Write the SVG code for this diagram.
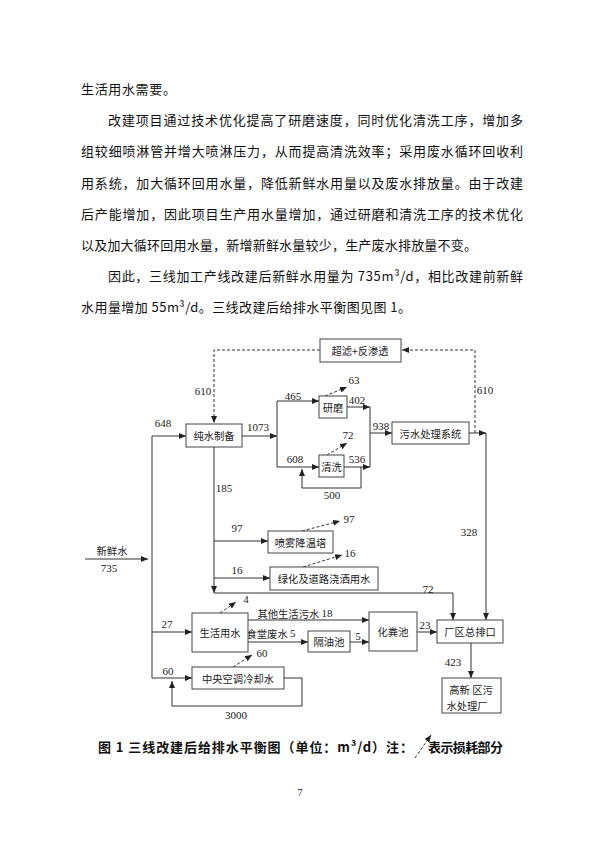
<svg xmlns="http://www.w3.org/2000/svg" width="600" height="849" viewBox="0 0 600 849">
<defs>
<marker id="ah" markerUnits="userSpaceOnUse" markerWidth="8" markerHeight="7" refX="7" refY="3" orient="auto">
<path d="M0,0 L7,3 L0,6 z" fill="#222"/>
</marker>
<style>
.t{font-family:"Noto Sans CJK SC",sans-serif;font-size:13px;fill:#111;letter-spacing:0.65px}
.tj{font-family:"Noto Sans CJK SC",sans-serif;font-size:13px;fill:#111}
.box{fill:#fff;stroke:#444;stroke-width:1}
.bt{font-family:"Noto Sans CJK SC",sans-serif;font-size:10.3px;fill:#222;text-anchor:middle;dominant-baseline:central}
.n{font-family:"Liberation Serif",serif;font-size:11px;fill:#222;text-anchor:middle;dominant-baseline:central}
.c{font-family:"Noto Sans CJK SC",sans-serif;font-size:10.3px;fill:#222;text-anchor:middle;dominant-baseline:central}
.ln{stroke:#333;fill:none;stroke-width:1}
.ds{stroke:#333;fill:none;stroke-width:1;stroke-dasharray:3 2}
.cap{font-family:"Noto Sans CJK SC",sans-serif;font-size:13px;font-weight:bold;fill:#111}
</style>
</defs>
<rect width="600" height="849" fill="#fff"/>
<g id="body-text">
<text class="t" x="81" y="94">生活用水需要。</text>
<text class="tj" x="108" y="125" textLength="415" lengthAdjust="spacing">改建项目通过技术优化提高了研磨速度，同时优化清洗工序，增加多</text>
<text class="tj" x="81" y="156" textLength="442" lengthAdjust="spacing">组较细喷淋管并增大喷淋压力，从而提高清洗效率；采用废水循环回收利</text>
<text class="tj" x="81" y="187.5" textLength="442" lengthAdjust="spacing">用系统，加大循环回用水量，降低新鲜水用量以及废水排放量。由于改建</text>
<text class="tj" x="81" y="219" textLength="442" lengthAdjust="spacing">后产能增加，因此项目生产用水量增加，通过研磨和清洗工序的技术优化</text>
<text class="tj" x="81" y="250" textLength="396" lengthAdjust="spacing">以及加大循环回用水量，新增新鲜水量较少，生产废水排放量不变。</text>
<text class="tj" x="108" y="281" textLength="415" lengthAdjust="spacing">因此，三线加工产线改建后新鲜水用量为 735m³/d，相比改建前新鲜</text>
<text class="tj" x="81" y="312" textLength="330" lengthAdjust="spacing">水用量增加 55m³/d。三线改建后给排水平衡图见图 1。</text>
</g>
<g id="connectors">
<path class="ds" d="M320,350 H214 V423" marker-end="url(#ah)"/>
<path class="ds" d="M475,433 V350 H402" marker-end="url(#ah)"/>
<path class="ln" d="M152,436 V678"/>
<path class="ln" d="M152,436 H186" marker-end="url(#ah)"/>
<path class="ln" d="M152,632 H192" marker-end="url(#ah)"/>
<path class="ln" d="M152,678 H192" marker-end="url(#ah)"/>
<path class="ln" d="M85,559 H148" marker-end="url(#ah)"/>
<path class="ln" d="M242,436 H277" marker-end="url(#ah)"/>
<path class="ln" d="M277,401 V467"/>
<path class="ln" d="M277,401 H319" marker-end="url(#ah)"/>
<path class="ln" d="M277,467 H319" marker-end="url(#ah)"/>
<path class="ln" d="M347,407 H370" marker-end="url(#ah)"/>
<path class="ln" d="M344,467 H370" marker-end="url(#ah)"/>
<path class="ln" d="M370,407 V467"/>
<path class="ln" d="M370,433 H392" marker-end="url(#ah)"/>
<path class="ln" d="M361,467 V488 H302 V469" marker-end="url(#ah)"/>
<path class="ln" d="M469,433 H486" marker-end="url(#ah)"/>
<path class="ln" d="M486,433 V620" marker-end="url(#ah)"/>
<path class="ln" d="M214,447 V593" marker-end="url(#ah)"/>
<path class="ln" d="M214,593 H453 V620" marker-end="url(#ah)"/>
<path class="ln" d="M214,541 H268" marker-end="url(#ah)"/>
<path class="ln" d="M214,578 H270" marker-end="url(#ah)"/>
<path class="ln" d="M248,620 H369" marker-end="url(#ah)"/>
<path class="ln" d="M248,642 H308" marker-end="url(#ah)"/>
<path class="ln" d="M350,642 H369" marker-end="url(#ah)"/>
<path class="ln" d="M417,632 H437" marker-end="url(#ah)"/>
<path class="ln" d="M471,643 V678" marker-end="url(#ah)"/>
<path class="ln" d="M284,678 H302 V706 H172 V681" marker-end="url(#ah)"/>
<path class="ds" d="M325,396 L347,387" marker-end="url(#ah)"/>
<path class="ds" d="M327,455 L347,443" marker-end="url(#ah)"/>
<path class="ds" d="M302,531 L340,521" marker-end="url(#ah)"/>
<path class="ds" d="M303,567 L342,555" marker-end="url(#ah)"/>
<path class="ds" d="M220,613 L236,602" marker-end="url(#ah)"/>
<path class="ds" d="M233,667 L252,655" marker-end="url(#ah)"/>
</g>
<g id="labels">
<text class="n" x="203" y="391">610</text>
<text class="n" x="163" y="423">648</text>
<text class="n" x="258" y="427">1073</text>
<text class="n" x="293" y="396">465</text>
<text class="n" x="354" y="380">63</text>
<text class="n" x="357" y="400">402</text>
<text class="n" x="381" y="426">938</text>
<text class="n" x="485" y="390">610</text>
<text class="n" x="295" y="459">608</text>
<text class="n" x="348" y="435">72</text>
<text class="n" x="357" y="459">536</text>
<text class="n" x="332" y="495">500</text>
<text class="n" x="224" y="488">185</text>
<text class="n" x="237" y="528">97</text>
<text class="n" x="349" y="519">97</text>
<text class="n" x="237" y="570">16</text>
<text class="n" x="350" y="553">16</text>
<text class="n" x="469" y="532">328</text>
<text class="c" x="112" y="550">新鲜水</text>
<text class="n" x="109" y="568">735</text>
<text class="n" x="428" y="589">72</text>
<text class="n" x="246" y="599">4</text>
<text class="n" x="167" y="624">27</text>
<text class="n" x="168" y="671">60</text>
<text class="n" x="262" y="653">60</text>
<text class="n" x="236" y="715">3000</text>
<text class="n" x="358" y="636">5</text>
<text class="n" x="425" y="625">23</text>
<text class="n" x="453" y="662">423</text>
<text class="c" x="295" y="613">其他生活污水 <tspan font-family="Liberation Serif, serif" font-size="11">18</tspan></text>
<text class="c" x="271" y="633">食堂废水 <tspan font-family="Liberation Serif, serif" font-size="11">5</tspan></text>
</g>
<g id="n-uf-ro"><rect class="box" x="320" y="339" width="81" height="23"/><text class="bt" x="360" y="350.5">超滤+反渗透</text></g>
<g id="n-pure"><rect class="box" x="186" y="424" width="56" height="23"/><text class="bt" x="214" y="435.5">纯水制备</text></g>
<g id="n-grind"><rect class="box" x="319" y="396" width="28" height="22"/><text class="bt" x="333" y="407">研磨</text></g>
<g id="n-clean"><rect class="box" x="319" y="455" width="25" height="22"/><text class="bt" x="331.5" y="466">清洗</text></g>
<g id="n-wwtp"><rect class="box" x="392" y="422" width="77" height="22"/><text class="bt" x="430.5" y="433">污水处理系统</text></g>
<g id="n-spray"><rect class="box" x="268" y="531" width="65" height="22"/><text class="bt" x="300.5" y="542">喷雾降温塔</text></g>
<g id="n-green"><rect class="box" x="270" y="567" width="108" height="23"/><text class="bt" x="324" y="578.5">绿化及道路浇洒用水</text></g>
<g id="n-domestic"><rect class="box" x="192" y="613" width="56" height="39"/><text class="bt" x="220" y="632.5">生活用水</text></g>
<g id="n-cooling"><rect class="box" x="192" y="667" width="92" height="22"/><text class="bt" x="238" y="678">中央空调冷却水</text></g>
<g id="n-grease"><rect class="box" x="308" y="631" width="42" height="21"/><text class="bt" x="329" y="641.5">隔油池</text></g>
<g id="n-septic"><rect class="box" x="369" y="612" width="48" height="39"/><text class="bt" x="393" y="631">化粪池</text></g>
<g id="n-outlet"><rect class="box" x="437" y="620" width="66" height="23"/><text class="bt" x="470" y="631.5">厂区总排口</text></g>
<g id="n-plant"><rect class="box" x="442" y="678" width="59" height="35"/><text class="bt" x="471" y="689">高新 区污</text><text class="bt" x="467" y="705.5">水处理厂</text></g>
<g id="caption">
<text class="cap" x="98" y="752" textLength="315" lengthAdjust="spacing">图 1  三线改建后给排水平衡图（单位：m³/d）注：</text>
<path class="ds" d="M415,758 L431,735" marker-end="url(#ah)"/>
<text class="cap" x="428" y="752" font-size="12.5" textLength="75" lengthAdjust="spacing">表示损耗部分</text>
</g>
<text x="300" y="796" font-family="Liberation Serif, serif" font-size="10" text-anchor="middle" fill="#222">7</text>
</svg>
